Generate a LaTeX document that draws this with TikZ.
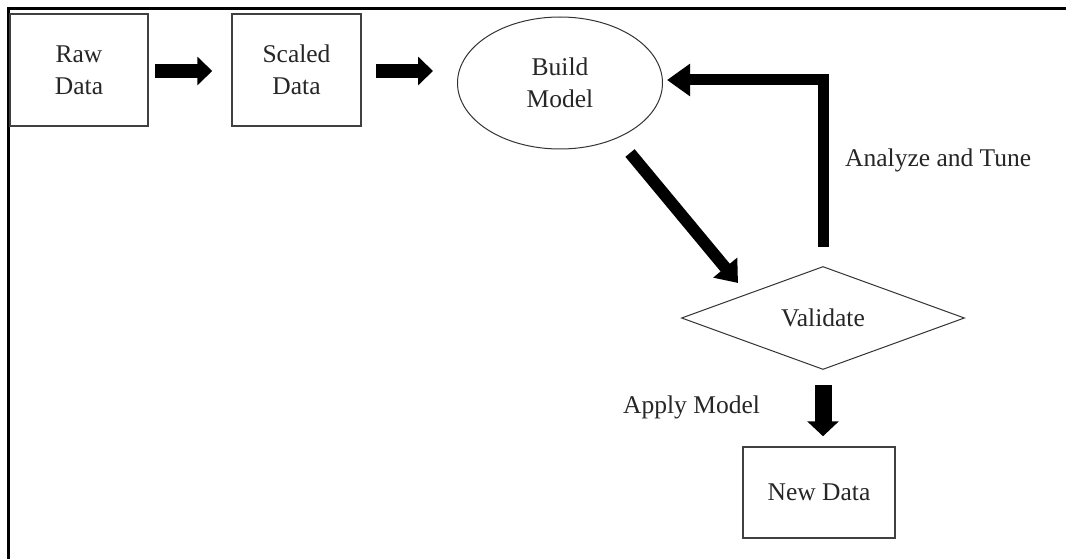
\documentclass[tikz,border=0pt]{standalone}
\usepackage{fontspec}
\setmainfont{Liberation Serif}
\usetikzlibrary{shapes.geometric,arrows.meta,calc}
\begin{document}
\begin{tikzpicture}[x=1pt,y=-1pt,
  txt/.style={font=\fontsize{25.5pt}{32pt}\selectfont, text=black!85},
  box/.style={txt, draw=black!75, line width=1.5pt, inner sep=0pt, align=center},
  lbl/.style={txt, inner sep=0pt},
  harrow/.style={line width=14pt, -{Triangle[width=28pt,length=15pt]}},
  fbarrow/.style={line width=11pt, line join=miter, -{Triangle[width=31pt,length=23pt]}},
  darrow/.style={line width=12pt, -{Triangle[width=30pt,length=20pt]}},
  varrow/.style={line width=17pt, -{Triangle[width=31pt,length=15pt]}}]
\useasboundingbox (0,0) rectangle (1066,559);
\fill[white] (0,0) rectangle (1066,559);
\draw[line width=3pt] (8.5,559) -- (8.5,8.5) -- (1066,8.5);

\node[box, minimum width=138pt, minimum height=112pt] (raw) at (79,70) {Raw\\Data};
\node[box, minimum width=129pt, minimum height=112pt] (scaled) at (296.5,70) {Scaled\\Data};
\node[box, ellipse, draw=black!80, line width=1pt, minimum width=205pt, minimum height=132pt] (build) at (560,83) {Build\\Model};
\node[box, diamond, draw=black!80, line width=1pt, aspect=2.75, minimum width=283pt, minimum height=103pt] (val) at (823,318) {Validate};
\node[box, minimum width=152pt, minimum height=91pt] (new) at (819,492.5) {New Data};

\node[lbl, anchor=west] (tune) at (845,160) {Analyze and Tune};
\node[lbl, anchor=west] (apply) at (623,407) {Apply Model};

\draw[harrow] ($(raw.east)+(6,1)$) -- ($(scaled.west)+(-19,1)$);
\draw[harrow] ($(scaled.east)+(14,1)$) -- ($(build.west)+(-24,-12)$);
\draw[fbarrow] ($(val.north)+(0,-19)$) |- ($(build.east)+(4,-3)$);
\draw[darrow] ($(build.center)+(70,70)$) -- ($(val.center)+(-85,-35)$);
\draw[varrow] ($(val.south)+(0,15)$) -- ($(new.north)+(4,-10)$);
\end{tikzpicture}
\end{document}
